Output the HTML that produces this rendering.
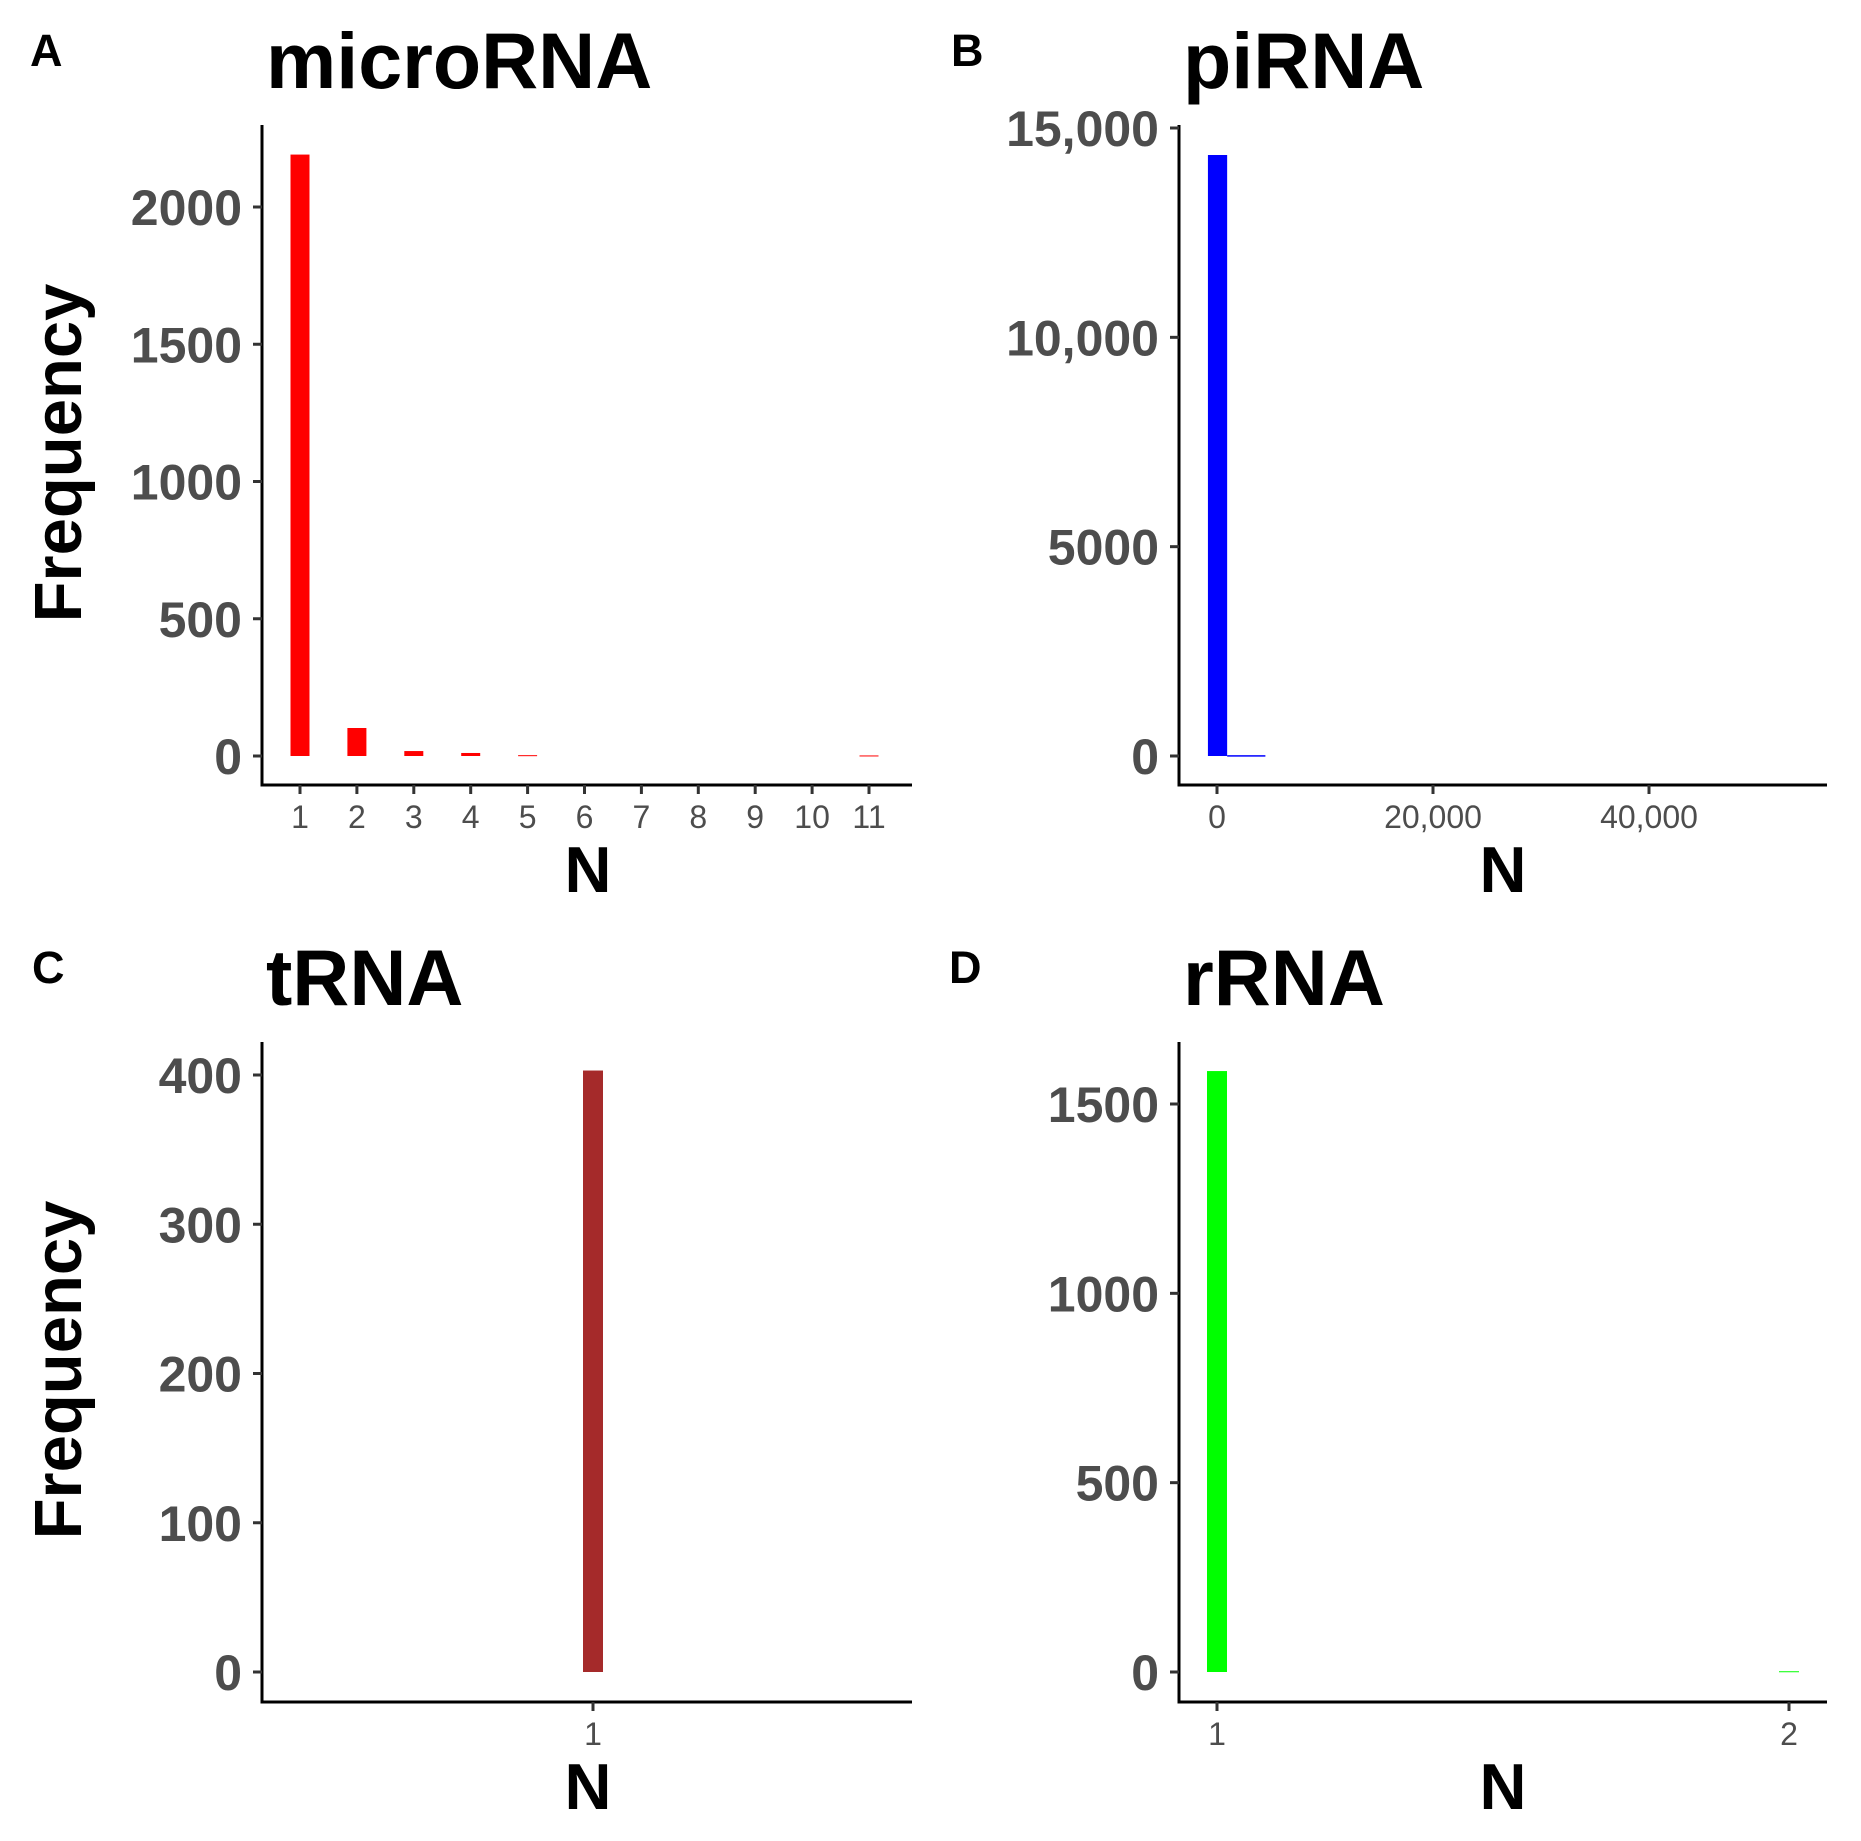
<!DOCTYPE html>
<html><head><meta charset="utf-8">
<style>
html,body{margin:0;padding:0;background:#fff;}
svg{display:block;font-family:"Liberation Sans",Arial,sans-serif;}
</style></head>
<body>
<svg id="chart" width="1861" height="1841" viewBox="0 0 1861 1841" xmlns="http://www.w3.org/2000/svg"></svg>
<script>
// Panel A: microRNA
const mirCategories = [1,2,3,4,5,6,7,8,9,10,11];
const mirCounts = [2191,102,18,11,3,0,0,0,0,0,2];
const mirYTicks = [0,500,1000,1500,2000];
const mirYTickLabels = ["0","500","1000","1500","2000"];
const mirXTickLabels = ["1","2","3","4","5","6","7","8","9","10","11"];
// Panel B: piRNA (histogram)
const piBinStart = [-840, 940];
const piBinEnd = [940, 4480];
const piCounts = [14355, 20];
const piYTicks = [0,5000,10000,15000];
const piYTickLabels = ["0","5000","10,000","15,000"];
const piXTicks = [0,20000,40000];
const piXTickLabels = ["0","20,000","40,000"];
// Panel C: tRNA
const tCategories = [1];
const tCounts = [403];
const tYTicks = [0,100,200,300,400];
const tYTickLabels = ["0","100","200","300","400"];
const tXTickLabels = ["1"];
// Panel D: rRNA
const rCategories = [1,2];
const rCounts = [1587,2];
const rYTicks = [0,500,1000,1500];
const rYTickLabels = ["0","500","1000","1500"];
const rXTickLabels = ["1","2"];

const NS = "http://www.w3.org/2000/svg";
const svg = document.getElementById('chart');
function mk(tag, attrs, parent){
  const e = document.createElementNS(NS, tag);
  for (const k in attrs) e.setAttribute(k, attrs[k]);
  (parent||svg).appendChild(e);
  return e;
}
function lin(d0,d1,r0,r1){ return v => r0 + (v-d0)/(d1-d0)*(r1-r0); }

function panel(cfg){
  const g = mk('g', {});
  
  
  const y = lin(0, cfg.yRef, cfg.y0px, cfg.yRefPx);
  const x = cfg.x;
  const lt = mk('text', {x:cfg.letterX, y:cfg.letterY, 'font-size':45, 'font-weight':'bold', fill:'#000'}, g);
  lt.textContent = cfg.letter;
  
  
  const tt = mk('text', {x:cfg.axX+4, y:cfg.titleY, 'font-size':79, 'font-weight':'bold', fill:'#000'}, g);
  tt.textContent = cfg.title;
  
  
  cfg.bars(g, x, y);
  const ya = mk('line', {x1:cfg.axX, y1:cfg.top, x2:cfg.axX, y2:cfg.axY+1.5, stroke:'#000','stroke-width':3}, g);
  
  
  const xa = mk('line', {x1:cfg.axX-1.5, y1:cfg.axY, x2:cfg.right, y2:cfg.axY, stroke:'#000','stroke-width':3}, g);
  
  
  cfg.yTicks.forEach((v,i)=>{
    const py = y(v);
    const tk = mk('line', {x1:cfg.axX-9, y1:py, x2:cfg.axX, y2:py, stroke:'#333','stroke-width':3}, g);
    
    
    const t = mk('text', {x:cfg.axX-20, y:py+18, 'font-size':50, 'font-weight':'bold', fill:'#4d4d4d','text-anchor':'end'}, g);
    t.textContent = cfg.yTickLabels[i];
    
    
  });
  cfg.xTicks.forEach((v,i)=>{
    const px = x(v);
    const tk = mk('line', {x1:px, y1:cfg.axY, x2:px, y2:cfg.axY+9, stroke:'#333','stroke-width':3}, g);
    
    
    const t = mk('text', {x:px, y:cfg.axY+43, 'font-size':32, fill:'#4d4d4d','text-anchor':'middle'}, g);
    t.textContent = cfg.xTickLabels[i];
    
    
  });
  const xt = mk('text', {x:cfg.nX, y:cfg.axY+107, 'font-size':65, 'font-weight':'bold', fill:'#000','text-anchor':'middle'}, g);
  xt.textContent = 'N';
  
  
  if (cfg.yTitle){
    const cy = (cfg.top+cfg.axY)/2 - 2;
    const yt = mk('text', {x:0, y:0, 'font-size':67, 'font-weight':'bold', fill:'#000','text-anchor':'middle',
      transform:'translate(81,'+cy+') rotate(-90)'}, g);
    yt.textContent = 'Frequency';
    
    
  }
}

function catBars(cats, counts, color, halfW){
  return (g, x, y) => {
    cats.forEach((c,i)=>{
      if (counts[i] <= 0) return;
      const y0 = y(0), y1 = y(counts[i]);
      const r = mk('rect', {x:x(c)-halfW, y:Math.min(y0,y1), width:halfW*2, height:Math.max(Math.abs(y0-y1),1), fill:color}, g);
      
      
    });
  };
}

panel({name:'panel-a-microrna', letter:'A', letterX:30, letterY:66, title:'microRNA', titleY:88,
  axX:262, axY:785, top:125, right:912, nX:588,
  x: lin(1, 11, 300, 869), y0px:756, yRef:2000, yRefPx:207,
  yTicks:mirYTicks, yTickLabels:mirYTickLabels, xTicks:mirCategories, xTickLabels:mirXTickLabels,
  bars: catBars(mirCategories, mirCounts, '#ff0000', 9.5), yTitle:true});

panel({name:'panel-b-pirna', letter:'B', letterX:951, letterY:66, title:'piRNA', titleY:88,
  axX:1179, axY:785, top:125, right:1827, nX:1503,
  x: lin(0, 20000, 1217, 1433), y0px:756, yRef:15000, yRefPx:128,
  yTicks:piYTicks, yTickLabels:piYTickLabels, xTicks:piXTicks, xTickLabels:piXTickLabels,
  bars: (g,x,y)=>{
    piCounts.forEach((c,i)=>{
      const x0 = x(piBinStart[i]), x1 = x(piBinEnd[i]);
      const y0 = y(0), y1 = y(c);
      const r = mk('rect', {x:x0, y:Math.min(y0,y1), width:x1-x0, height:Math.max(Math.abs(y0-y1),1.5), fill:'#0000ff'}, g);
      
      
    });
  }, yTitle:false});

panel({name:'panel-c-trna', letter:'C', letterX:32, letterY:983, title:'tRNA', titleY:1005,
  axX:262, axY:1702, top:1042, right:912, nX:588,
  x: lin(0, 1, 262-331, 593), y0px:1672, yRef:400, yRefPx:1075,
  yTicks:tYTicks, yTickLabels:tYTickLabels, xTicks:tCategories, xTickLabels:tXTickLabels,
  bars: catBars(tCategories, tCounts, '#a52a2a', 10), yTitle:true});

panel({name:'panel-d-rrna', letter:'D', letterX:949, letterY:983, title:'rRNA', titleY:1005,
  axX:1179, axY:1702, top:1042, right:1827, nX:1503,
  x: lin(1, 2, 1217, 1789), y0px:1672, yRef:1500, yRefPx:1104,
  yTicks:rYTicks, yTickLabels:rYTickLabels, xTicks:rCategories, xTickLabels:rXTickLabels,
  bars: catBars(rCategories, rCounts, '#00ff00', 10), yTitle:false});
</script>
</body></html>
